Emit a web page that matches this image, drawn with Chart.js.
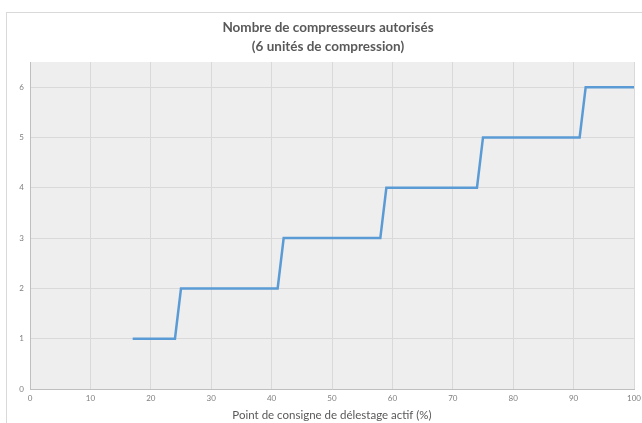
<!DOCTYPE html>
<html>
<head>
<meta charset="utf-8">
<script src="https://cdn.jsdelivr.net/npm/chart.js@4/dist/chart.umd.min.js"></script>
<style>
  html, body { margin: 0; padding: 0; background: #fff; }
  #wrap { width: 642px; height: 423px; }
</style>
</head>
<body>
<div id="wrap"><canvas id="stepChart"></canvas></div>
<script>
// Données
const consigne = [17, 24, 25, 41, 42, 58, 59, 74, 75, 91, 92, 100];
const compresseurs = [1, 1, 2, 2, 3, 3, 4, 4, 5, 5, 6, 6];
const titre = ['Nombre de compresseurs autorisés', '(6 unités de compression)'];
const titreX = 'Point de consigne de délestage actif (%)';

const points = consigne.map((x, i) => ({ x: x, y: compresseurs[i] }));

// fond gris de la zone de tracé + cadre du graphique (coupé à droite et en bas)
const decor = {
    id: 'decor',
    afterLayout(chart) {
        // le cadre d'origine déborde à droite : titre centré sur ce cadre
        chart.titleBlock.left = 14;
        chart.titleBlock.right = 642;
    },
    beforeDraw(chart) {
        const c = chart.ctx;
        const a = chart.chartArea;
        c.save();
        c.strokeStyle = '#d9d9d9';
        c.lineWidth = 1;
        c.strokeRect(6.5, 12.5, 700, 500);
        c.fillStyle = '#eeeeee';
        c.fillRect(a.left, a.top, a.right - a.left, a.bottom - a.top);
        c.restore();
    }
};

const ctx = document.getElementById('stepChart').getContext('2d');
const stepChart = new Chart(ctx, {
    type: 'line',
    data: {
        datasets: [{
            data: points,
            borderColor: '#5b9bd5',
            borderWidth: 2.5,
            pointRadius: 0,
            tension: 0,
            fill: false
        }]
    },
    options: {
        responsive: true,
        maintainAspectRatio: false,
        animation: false,
        layout: { padding: { left: 0, right: 8, top: 0, bottom: 0 } },
        plugins: {
            legend: { display: false },
            tooltip: { enabled: false },
            title: {
                display: true,
                text: titre,
                color: '#595959',
                font: { family: 'Lato', size: 13.5, weight: 'bold', lineHeight: '19px' },
                padding: { top: 18, bottom: 6 }
            }
        },
        scales: {
            x: {
                type: 'linear',
                min: 0,
                max: 100,
                ticks: { stepSize: 10, color: '#7f7f7f', font: { family: 'Lato', size: 8 }, padding: 5, maxRotation: 0 },
                grid: { color: '#d9d9d9', drawTicks: false },
                border: { color: '#bfbfbf' },
                title: {
                    display: true,
                    text: titreX,
                    color: '#595959',
                    font: { family: 'Lato', size: 11.5 },
                    padding: { top: 0, bottom: 1 }
                },
                afterFit(scale) {
                    scale.height = 34;
                    scale.paddingLeft = 0;
                    scale.paddingRight = 0;
                }
            },
            y: {
                min: 0,
                max: 6.5,
                ticks: { stepSize: 1, includeBounds: false, color: '#7f7f7f', font: { family: 'Lato', size: 8 }, padding: 6 },
                grid: { color: '#d9d9d9', drawTicks: false },
                border: { color: '#bfbfbf' },
                afterFit(scale) { scale.width = 30; }
            }
        }
    },
    plugins: [decor]
});
</script>
</body>
</html>
